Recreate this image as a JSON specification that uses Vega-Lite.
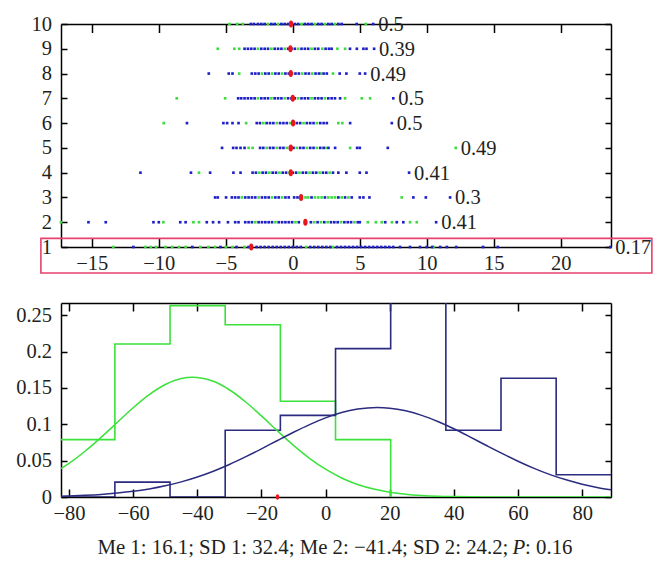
{
"$schema": "https://vega.github.io/schema/vega-lite/v6.json",
"background": "white",
"padding": {"left": 14, "top": 14, "right": 5, "bottom": 5},
"config": {
  "view": {"stroke": null},
  "font": "Liberation Serif",
  "axis": {"grid": false, "domainColor": "#000000", "domainWidth": 1.5, "tickColor": "#000000", "tickWidth": 1.5, "labelFont": "Liberation Serif", "labelFontSize": 20.5, "labelColor": "#231f20"}
},
"datasets": {
"dots": [
{"row":10,"x":-4.73,"grp":"g"},{"row":10,"x":-4.15,"grp":"g"},{"row":10,"x":-3.73,"grp":"g"},{"row":10,"x":-1.85,"grp":"g"},{"row":10,"x":-1.1,"grp":"g"},{"row":10,"x":-0.1,"grp":"g"},{"row":10,"x":0.65,"grp":"g"},{"row":10,"x":1.65,"grp":"g"},{"row":10,"x":2.4,"grp":"g"},{"row":10,"x":3.15,"grp":"g"},{"row":10,"x":5.45,"grp":"g"},
{"row":10,"x":-3.13,"grp":"b"},{"row":10,"x":-2.9,"grp":"b"},{"row":10,"x":-2.6,"grp":"b"},{"row":10,"x":-2.35,"grp":"b"},{"row":10,"x":-2.1,"grp":"b"},{"row":10,"x":-1.6,"grp":"b"},{"row":10,"x":-1.35,"grp":"b"},{"row":10,"x":-0.85,"grp":"b"},{"row":10,"x":-0.6,"grp":"b"},{"row":10,"x":-0.35,"grp":"b"},{"row":10,"x":0.15,"grp":"b"},{"row":10,"x":0.4,"grp":"b"},{"row":10,"x":0.9,"grp":"b"},{"row":10,"x":1.15,"grp":"b"},{"row":10,"x":1.4,"grp":"b"},{"row":10,"x":1.9,"grp":"b"},{"row":10,"x":2.15,"grp":"b"},{"row":10,"x":2.65,"grp":"b"},{"row":10,"x":2.9,"grp":"b"},{"row":10,"x":3.4,"grp":"b"},{"row":10,"x":3.65,"grp":"b"},{"row":10,"x":4.77,"grp":"b"},{"row":10,"x":6.0,"grp":"b"},
{"row":9,"x":-5.6,"grp":"g"},{"row":9,"x":-4.36,"grp":"g"},{"row":9,"x":-4.0,"grp":"g"},{"row":9,"x":-2.6,"grp":"g"},{"row":9,"x":-1.6,"grp":"g"},{"row":9,"x":-0.6,"grp":"g"},{"row":9,"x":0.4,"grp":"g"},{"row":9,"x":1.4,"grp":"g"},{"row":9,"x":2.2,"grp":"g"},{"row":9,"x":3.33,"grp":"g"},{"row":9,"x":3.9,"grp":"g"},
{"row":9,"x":-3.6,"grp":"b"},{"row":9,"x":-3.35,"grp":"b"},{"row":9,"x":-3.1,"grp":"b"},{"row":9,"x":-2.85,"grp":"b"},{"row":9,"x":-2.35,"grp":"b"},{"row":9,"x":-2.1,"grp":"b"},{"row":9,"x":-1.85,"grp":"b"},{"row":9,"x":-1.35,"grp":"b"},{"row":9,"x":-1.1,"grp":"b"},{"row":9,"x":-0.85,"grp":"b"},{"row":9,"x":-0.35,"grp":"b"},{"row":9,"x":-0.1,"grp":"b"},{"row":9,"x":0.15,"grp":"b"},{"row":9,"x":0.65,"grp":"b"},{"row":9,"x":0.9,"grp":"b"},{"row":9,"x":1.15,"grp":"b"},{"row":9,"x":1.65,"grp":"b"},{"row":9,"x":1.9,"grp":"b"},{"row":9,"x":2.45,"grp":"b"},{"row":9,"x":2.7,"grp":"b"},{"row":9,"x":2.9,"grp":"b"},{"row":9,"x":4.27,"grp":"b"},{"row":9,"x":4.78,"grp":"b"},{"row":9,"x":5.27,"grp":"b"},{"row":9,"x":5.5,"grp":"b"},{"row":9,"x":6.07,"grp":"b"},
{"row":8,"x":-4.0,"grp":"g"},{"row":8,"x":-2.3,"grp":"g"},{"row":8,"x":-1.55,"grp":"g"},{"row":8,"x":-0.8,"grp":"g"},{"row":8,"x":-0.05,"grp":"g"},{"row":8,"x":0.7,"grp":"g"},{"row":8,"x":1.45,"grp":"g"},{"row":8,"x":2.1,"grp":"g"},{"row":8,"x":3.0,"grp":"g"},
{"row":8,"x":-6.27,"grp":"b"},{"row":8,"x":-4.78,"grp":"b"},{"row":8,"x":-4.5,"grp":"b"},{"row":8,"x":-3.06,"grp":"b"},{"row":8,"x":-2.8,"grp":"b"},{"row":8,"x":-2.55,"grp":"b"},{"row":8,"x":-2.05,"grp":"b"},{"row":8,"x":-1.8,"grp":"b"},{"row":8,"x":-1.3,"grp":"b"},{"row":8,"x":-1.05,"grp":"b"},{"row":8,"x":-0.55,"grp":"b"},{"row":8,"x":-0.3,"grp":"b"},{"row":8,"x":0.2,"grp":"b"},{"row":8,"x":0.45,"grp":"b"},{"row":8,"x":0.95,"grp":"b"},{"row":8,"x":1.2,"grp":"b"},{"row":8,"x":1.7,"grp":"b"},{"row":8,"x":1.95,"grp":"b"},{"row":8,"x":2.3,"grp":"b"},{"row":8,"x":2.54,"grp":"b"},{"row":8,"x":3.5,"grp":"b"},{"row":8,"x":4.0,"grp":"b"},{"row":8,"x":5.0,"grp":"b"},{"row":8,"x":5.4,"grp":"b"},
{"row":7,"x":-8.66,"grp":"g"},{"row":7,"x":-5.05,"grp":"g"},{"row":7,"x":-2.6,"grp":"g"},{"row":7,"x":-1.6,"grp":"g"},{"row":7,"x":-0.6,"grp":"g"},{"row":7,"x":0.4,"grp":"g"},{"row":7,"x":1.4,"grp":"g"},{"row":7,"x":2.4,"grp":"g"},{"row":7,"x":3.9,"grp":"g"},{"row":7,"x":5.15,"grp":"g"},{"row":7,"x":5.77,"grp":"g"},
{"row":7,"x":-4.08,"grp":"b"},{"row":7,"x":-3.85,"grp":"b"},{"row":7,"x":-3.6,"grp":"b"},{"row":7,"x":-3.35,"grp":"b"},{"row":7,"x":-3.1,"grp":"b"},{"row":7,"x":-2.85,"grp":"b"},{"row":7,"x":-2.35,"grp":"b"},{"row":7,"x":-2.1,"grp":"b"},{"row":7,"x":-1.85,"grp":"b"},{"row":7,"x":-1.35,"grp":"b"},{"row":7,"x":-1.1,"grp":"b"},{"row":7,"x":-0.85,"grp":"b"},{"row":7,"x":-0.35,"grp":"b"},{"row":7,"x":-0.1,"grp":"b"},{"row":7,"x":0.15,"grp":"b"},{"row":7,"x":0.65,"grp":"b"},{"row":7,"x":0.9,"grp":"b"},{"row":7,"x":1.15,"grp":"b"},{"row":7,"x":1.65,"grp":"b"},{"row":7,"x":1.9,"grp":"b"},{"row":7,"x":2.15,"grp":"b"},{"row":7,"x":2.65,"grp":"b"},{"row":7,"x":2.9,"grp":"b"},{"row":7,"x":3.15,"grp":"b"},{"row":7,"x":3.53,"grp":"b"},{"row":7,"x":7.5,"grp":"b"},
{"row":6,"x":-9.63,"grp":"g"},{"row":6,"x":-3.48,"grp":"g"},{"row":6,"x":-2.2,"grp":"g"},{"row":6,"x":-1.2,"grp":"g"},{"row":6,"x":-0.2,"grp":"g"},{"row":6,"x":0.8,"grp":"g"},{"row":6,"x":1.8,"grp":"g"},{"row":6,"x":3.4,"grp":"g"},{"row":6,"x":3.7,"grp":"g"},
{"row":6,"x":-7.9,"grp":"b"},{"row":6,"x":-5.18,"grp":"b"},{"row":6,"x":-4.9,"grp":"b"},{"row":6,"x":-4.5,"grp":"b"},{"row":6,"x":-4.05,"grp":"b"},{"row":6,"x":-2.69,"grp":"b"},{"row":6,"x":-2.45,"grp":"b"},{"row":6,"x":-1.95,"grp":"b"},{"row":6,"x":-1.7,"grp":"b"},{"row":6,"x":-1.45,"grp":"b"},{"row":6,"x":-0.95,"grp":"b"},{"row":6,"x":-0.7,"grp":"b"},{"row":6,"x":-0.45,"grp":"b"},{"row":6,"x":0.05,"grp":"b"},{"row":6,"x":0.3,"grp":"b"},{"row":6,"x":0.55,"grp":"b"},{"row":6,"x":1.05,"grp":"b"},{"row":6,"x":1.3,"grp":"b"},{"row":6,"x":1.55,"grp":"b"},{"row":6,"x":2.05,"grp":"b"},{"row":6,"x":2.3,"grp":"b"},{"row":6,"x":2.54,"grp":"b"},{"row":6,"x":4.28,"grp":"b"},{"row":6,"x":7.39,"grp":"b"},
{"row":5,"x":-3.3,"grp":"g"},{"row":5,"x":-3.0,"grp":"g"},{"row":5,"x":-1.95,"grp":"g"},{"row":5,"x":-1.2,"grp":"g"},{"row":5,"x":-0.45,"grp":"g"},{"row":5,"x":0.3,"grp":"g"},{"row":5,"x":1.05,"grp":"g"},{"row":5,"x":1.8,"grp":"g"},{"row":5,"x":2.45,"grp":"g"},{"row":5,"x":4.28,"grp":"g"},{"row":5,"x":12.16,"grp":"g"},
{"row":5,"x":-5.28,"grp":"b"},{"row":5,"x":-4.45,"grp":"b"},{"row":5,"x":-4.2,"grp":"b"},{"row":5,"x":-3.9,"grp":"b"},{"row":5,"x":-3.6,"grp":"b"},{"row":5,"x":-2.44,"grp":"b"},{"row":5,"x":-2.2,"grp":"b"},{"row":5,"x":-1.7,"grp":"b"},{"row":5,"x":-1.45,"grp":"b"},{"row":5,"x":-0.95,"grp":"b"},{"row":5,"x":-0.7,"grp":"b"},{"row":5,"x":-0.2,"grp":"b"},{"row":5,"x":0.05,"grp":"b"},{"row":5,"x":0.55,"grp":"b"},{"row":5,"x":0.8,"grp":"b"},{"row":5,"x":1.3,"grp":"b"},{"row":5,"x":1.55,"grp":"b"},{"row":5,"x":2.05,"grp":"b"},{"row":5,"x":2.3,"grp":"b"},{"row":5,"x":2.66,"grp":"b"},{"row":5,"x":3.16,"grp":"b"},{"row":5,"x":4.8,"grp":"b"},{"row":5,"x":5.0,"grp":"b"},{"row":5,"x":7.09,"grp":"b"},
{"row":4,"x":-7.0,"grp":"g"},{"row":4,"x":-2.5,"grp":"g"},{"row":4,"x":-1.75,"grp":"g"},{"row":4,"x":-1.0,"grp":"g"},{"row":4,"x":-0.25,"grp":"g"},{"row":4,"x":0.5,"grp":"g"},{"row":4,"x":1.25,"grp":"g"},{"row":4,"x":2.0,"grp":"g"},{"row":4,"x":2.75,"grp":"g"},
{"row":4,"x":-11.37,"grp":"b"},{"row":4,"x":-7.6,"grp":"b"},{"row":4,"x":-6.17,"grp":"b"},{"row":4,"x":-4.43,"grp":"b"},{"row":4,"x":-3.9,"grp":"b"},{"row":4,"x":-3.0,"grp":"b"},{"row":4,"x":-2.75,"grp":"b"},{"row":4,"x":-2.25,"grp":"b"},{"row":4,"x":-2.0,"grp":"b"},{"row":4,"x":-1.5,"grp":"b"},{"row":4,"x":-1.25,"grp":"b"},{"row":4,"x":-0.75,"grp":"b"},{"row":4,"x":-0.5,"grp":"b"},{"row":4,"x":0.0,"grp":"b"},{"row":4,"x":0.25,"grp":"b"},{"row":4,"x":0.75,"grp":"b"},{"row":4,"x":1.0,"grp":"b"},{"row":4,"x":1.5,"grp":"b"},{"row":4,"x":1.75,"grp":"b"},{"row":4,"x":2.25,"grp":"b"},{"row":4,"x":2.5,"grp":"b"},{"row":4,"x":3.0,"grp":"b"},{"row":4,"x":3.4,"grp":"b"},{"row":4,"x":4.0,"grp":"b"},{"row":4,"x":5.0,"grp":"b"},{"row":4,"x":5.5,"grp":"b"},{"row":4,"x":8.68,"grp":"b"},
{"row":3,"x":-3.8,"grp":"g"},{"row":3,"x":-2.55,"grp":"g"},{"row":3,"x":-1.55,"grp":"g"},{"row":3,"x":-0.8,"grp":"g"},{"row":3,"x":0.95,"grp":"g"},{"row":3,"x":1.15,"grp":"g"},{"row":3,"x":1.65,"grp":"g"},{"row":3,"x":1.9,"grp":"g"},{"row":3,"x":2.15,"grp":"g"},{"row":3,"x":2.65,"grp":"g"},{"row":3,"x":2.9,"grp":"g"},{"row":3,"x":3.15,"grp":"g"},{"row":3,"x":3.65,"grp":"g"},{"row":3,"x":4.15,"grp":"g"},{"row":3,"x":8.13,"grp":"g"},
{"row":3,"x":-5.8,"grp":"b"},{"row":3,"x":-5.6,"grp":"b"},{"row":3,"x":-4.98,"grp":"b"},{"row":3,"x":-4.55,"grp":"b"},{"row":3,"x":-4.3,"grp":"b"},{"row":3,"x":-4.05,"grp":"b"},{"row":3,"x":-3.55,"grp":"b"},{"row":3,"x":-3.3,"grp":"b"},{"row":3,"x":-3.05,"grp":"b"},{"row":3,"x":-2.8,"grp":"b"},{"row":3,"x":-2.3,"grp":"b"},{"row":3,"x":-2.05,"grp":"b"},{"row":3,"x":-1.8,"grp":"b"},{"row":3,"x":-1.3,"grp":"b"},{"row":3,"x":-1.05,"grp":"b"},{"row":3,"x":-0.55,"grp":"b"},{"row":3,"x":-0.3,"grp":"b"},{"row":3,"x":0.1,"grp":"b"},{"row":3,"x":0.35,"grp":"b"},{"row":3,"x":1.4,"grp":"b"},{"row":3,"x":2.4,"grp":"b"},{"row":3,"x":3.4,"grp":"b"},{"row":3,"x":3.9,"grp":"b"},{"row":3,"x":4.4,"grp":"b"},{"row":3,"x":5.0,"grp":"b"},{"row":3,"x":5.27,"grp":"b"},{"row":3,"x":5.72,"grp":"b"},{"row":3,"x":9.0,"grp":"b"},{"row":3,"x":9.93,"grp":"b"},{"row":3,"x":11.74,"grp":"b"},
{"row":2,"x":-17.3,"grp":"g"},{"row":2,"x":-9.66,"grp":"g"},{"row":2,"x":-7.42,"grp":"g"},{"row":2,"x":-7.0,"grp":"g"},{"row":2,"x":-2.8,"grp":"g"},{"row":2,"x":-1.3,"grp":"g"},{"row":2,"x":0.2,"grp":"g"},{"row":2,"x":1.6,"grp":"g"},{"row":2,"x":2.1,"grp":"g"},{"row":2,"x":2.6,"grp":"g"},{"row":2,"x":3.6,"grp":"g"},{"row":2,"x":4.6,"grp":"g"},{"row":2,"x":5.6,"grp":"g"},{"row":2,"x":6.2,"grp":"g"},{"row":2,"x":6.64,"grp":"g"},{"row":2,"x":7.4,"grp":"g"},{"row":2,"x":8.75,"grp":"g"},{"row":2,"x":9.25,"grp":"g"},
{"row":2,"x":-15.25,"grp":"b"},{"row":2,"x":-13.96,"grp":"b"},{"row":2,"x":-10.4,"grp":"b"},{"row":2,"x":-10.0,"grp":"b"},{"row":2,"x":-8.4,"grp":"b"},{"row":2,"x":-8.0,"grp":"b"},{"row":2,"x":-6.42,"grp":"b"},{"row":2,"x":-5.95,"grp":"b"},{"row":2,"x":-5.5,"grp":"b"},{"row":2,"x":-4.84,"grp":"b"},{"row":2,"x":-4.3,"grp":"b"},{"row":2,"x":-4.05,"grp":"b"},{"row":2,"x":-3.55,"grp":"b"},{"row":2,"x":-3.3,"grp":"b"},{"row":2,"x":-3.05,"grp":"b"},{"row":2,"x":-2.55,"grp":"b"},{"row":2,"x":-2.3,"grp":"b"},{"row":2,"x":-2.05,"grp":"b"},{"row":2,"x":-1.8,"grp":"b"},{"row":2,"x":-1.55,"grp":"b"},{"row":2,"x":-1.05,"grp":"b"},{"row":2,"x":-0.8,"grp":"b"},{"row":2,"x":-0.55,"grp":"b"},{"row":2,"x":-0.3,"grp":"b"},{"row":2,"x":-0.05,"grp":"b"},{"row":2,"x":0.45,"grp":"b"},{"row":2,"x":1.35,"grp":"b"},{"row":2,"x":1.85,"grp":"b"},{"row":2,"x":2.35,"grp":"b"},{"row":2,"x":2.85,"grp":"b"},{"row":2,"x":3.1,"grp":"b"},{"row":2,"x":3.35,"grp":"b"},{"row":2,"x":3.85,"grp":"b"},{"row":2,"x":4.1,"grp":"b"},{"row":2,"x":4.35,"grp":"b"},{"row":2,"x":4.85,"grp":"b"},{"row":2,"x":5.0,"grp":"b"},{"row":2,"x":6.9,"grp":"b"},{"row":2,"x":7.76,"grp":"b"},{"row":2,"x":8.25,"grp":"b"},{"row":2,"x":10.7,"grp":"b"},
{"row":1,"x":-13.4,"grp":"g"},{"row":1,"x":-11.0,"grp":"g"},{"row":1,"x":-10.6,"grp":"g"},{"row":1,"x":-10.2,"grp":"g"},{"row":1,"x":-9.5,"grp":"g"},{"row":1,"x":-9.0,"grp":"g"},{"row":1,"x":-8.5,"grp":"g"},{"row":1,"x":-8.0,"grp":"g"},{"row":1,"x":-6.9,"grp":"g"},{"row":1,"x":-6.3,"grp":"g"},{"row":1,"x":-5.8,"grp":"g"},{"row":1,"x":-5.0,"grp":"g"},{"row":1,"x":-4.5,"grp":"g"},{"row":1,"x":-3.6,"grp":"g"},{"row":1,"x":1.0,"grp":"g"},{"row":1,"x":3.0,"grp":"g"},{"row":1,"x":10.5,"grp":"g"},
{"row":1,"x":-11.9,"grp":"b"},{"row":1,"x":-7.5,"grp":"b"},{"row":1,"x":-5.4,"grp":"b"},{"row":1,"x":-4.2,"grp":"b"},{"row":1,"x":-3.3,"grp":"b"},{"row":1,"x":-2.7,"grp":"b"},{"row":1,"x":-2.4,"grp":"b"},{"row":1,"x":-2.1,"grp":"b"},{"row":1,"x":-1.8,"grp":"b"},{"row":1,"x":-1.5,"grp":"b"},{"row":1,"x":-1.2,"grp":"b"},{"row":1,"x":-0.9,"grp":"b"},{"row":1,"x":-0.6,"grp":"b"},{"row":1,"x":-0.3,"grp":"b"},{"row":1,"x":0.0,"grp":"b"},{"row":1,"x":0.3,"grp":"b"},{"row":1,"x":0.6,"grp":"b"},{"row":1,"x":1.3,"grp":"b"},{"row":1,"x":1.6,"grp":"b"},{"row":1,"x":1.9,"grp":"b"},{"row":1,"x":2.2,"grp":"b"},{"row":1,"x":2.5,"grp":"b"},{"row":1,"x":2.8,"grp":"b"},{"row":1,"x":3.3,"grp":"b"},{"row":1,"x":3.6,"grp":"b"},{"row":1,"x":3.9,"grp":"b"},{"row":1,"x":4.2,"grp":"b"},{"row":1,"x":4.5,"grp":"b"},{"row":1,"x":4.8,"grp":"b"},{"row":1,"x":5.1,"grp":"b"},{"row":1,"x":5.4,"grp":"b"},{"row":1,"x":5.7,"grp":"b"},{"row":1,"x":6.0,"grp":"b"},{"row":1,"x":6.3,"grp":"b"},{"row":1,"x":6.6,"grp":"b"},{"row":1,"x":6.9,"grp":"b"},{"row":1,"x":7.2,"grp":"b"},{"row":1,"x":7.5,"grp":"b"},{"row":1,"x":8.0,"grp":"b"},{"row":1,"x":8.75,"grp":"b"},{"row":1,"x":9.5,"grp":"b"},{"row":1,"x":10.0,"grp":"b"},{"row":1,"x":10.4,"grp":"b"},{"row":1,"x":11.0,"grp":"b"},{"row":1,"x":11.5,"grp":"b"},{"row":1,"x":12.2,"grp":"b"},{"row":1,"x":14.2,"grp":"b"},{"row":1,"x":15.3,"grp":"b"},{"row":1,"x":23.7,"grp":"b"}
],
"meds": [
{"row":10,"med":-0.13,"p":"0.5"},{"row":9,"med":-0.18,"p":"0.39"},{"row":8,"med":-0.15,"p":"0.49"},{"row":7,"med":0.0,"p":"0.5"},{"row":6,"med":0.02,"p":"0.5"},{"row":5,"med":-0.15,"p":"0.49"},{"row":4,"med":-0.15,"p":"0.41"},{"row":3,"med":0.62,"p":"0.3"},{"row":2,"med":0.94,"p":"0.41"},{"row":1,"med":-3.1,"p":"0.17"}
],
"hist": [
{"series":"2","x":-82.9,"y":0.0789},{"series":"2","x":-65.7,"y":0.2105},{"series":"2","x":-48.5,"y":0.2632},{"series":"2","x":-31.3,"y":0.2368},{"series":"2","x":-14.1,"y":0.1316},{"series":"2","x":3.1,"y":0.0789},{"series":"2","x":20.3,"y":0},
{"series":"1","x":-82.9,"y":0},{"series":"1","x":-65.7,"y":0.0204},{"series":"1","x":-48.5,"y":0},{"series":"1","x":-31.3,"y":0.0918},{"series":"1","x":-14.1,"y":0.1122},{"series":"1","x":3.1,"y":0.2041},{"series":"1","x":20.3,"y":0.2857},{"series":"1","x":37.5,"y":0.0918},{"series":"1","x":54.7,"y":0.1633},{"series":"1","x":71.9,"y":0.0306},{"series":"1","x":89.1,"y":0.0306}
],
"curve": [
{"series":"2","x":-82.5,"y":0.039},{"series":"2","x":-80,"y":0.0462},{"series":"2","x":-75,"y":0.0629},{"series":"2","x":-70,"y":0.082},{"series":"2","x":-65,"y":0.1024},{"series":"2","x":-60,"y":0.1227},{"series":"2","x":-55,"y":0.1407},{"series":"2","x":-50,"y":0.1547},{"series":"2","x":-45,"y":0.163},{"series":"2","x":-41.4,"y":0.1648},{"series":"2","x":-40,"y":0.1645},{"series":"2","x":-35,"y":0.1591},{"series":"2","x":-30,"y":0.1475},{"series":"2","x":-25,"y":0.131},{"series":"2","x":-20,"y":0.1115},{"series":"2","x":-15,"y":0.0909},{"series":"2","x":-10,"y":0.071},{"series":"2","x":-5,"y":0.0532},{"series":"2","x":0,"y":0.0382},{"series":"2","x":5,"y":0.0262},{"series":"2","x":10,"y":0.0173},{"series":"2","x":15,"y":0.0109},{"series":"2","x":20,"y":0.0066},{"series":"2","x":25,"y":0.0038},{"series":"2","x":30,"y":0.0021},{"series":"2","x":35,"y":0.0011},{"series":"2","x":40,"y":0.0006},{"series":"2","x":45,"y":0.0003},{"series":"2","x":50,"y":0.0001},{"series":"2","x":60,"y":0},{"series":"2","x":89,"y":0},
{"series":"1","x":-82.5,"y":0.0012},{"series":"1","x":-80,"y":0.0015},{"series":"1","x":-75,"y":0.0024},{"series":"1","x":-70,"y":0.0036},{"series":"1","x":-65,"y":0.0054},{"series":"1","x":-60,"y":0.0078},{"series":"1","x":-55,"y":0.0111},{"series":"1","x":-50,"y":0.0154},{"series":"1","x":-45,"y":0.0208},{"series":"1","x":-40,"y":0.0275},{"series":"1","x":-35,"y":0.0355},{"series":"1","x":-30,"y":0.0447},{"series":"1","x":-25,"y":0.0551},{"series":"1","x":-20,"y":0.0662},{"series":"1","x":-15,"y":0.0777},{"series":"1","x":-10,"y":0.089},{"series":"1","x":-5,"y":0.0996},{"series":"1","x":0,"y":0.1088},{"series":"1","x":5,"y":0.1161},{"series":"1","x":10,"y":0.1209},{"series":"1","x":16.1,"y":0.1231},{"series":"1","x":20,"y":0.1222},{"series":"1","x":25,"y":0.1185},{"series":"1","x":30,"y":0.1123},{"series":"1","x":35,"y":0.1038},{"series":"1","x":40,"y":0.0938},{"series":"1","x":45,"y":0.0827},{"series":"1","x":50,"y":0.0712},{"series":"1","x":55,"y":0.0599},{"series":"1","x":60,"y":0.0492},{"series":"1","x":65,"y":0.0394},{"series":"1","x":70,"y":0.0308},{"series":"1","x":75,"y":0.0236},{"series":"1","x":80,"y":0.0176},{"series":"1","x":85,"y":0.0128},{"series":"1","x":89,"y":0.0098}
],
"marker": [{"x":-15.0,"y":0}]
},
"resolve": {"scale": {"x": "independent", "y": "independent", "color": "independent"}},
"spacing": 28,
"vconcat": [
{
  "width": 550, "height": 223,
  "layer": [
    {"data": {"name": "dots"},
     "mark": {"type": "point", "shape": "square", "filled": true, "size": 7, "opacity": 1},
     "encoding": {
       "x": {"field": "x", "type": "quantitative", "scale": {"domain": [-17.3, 23.75], "nice": false, "zero": false}, "axis": {"orient": "bottom", "values": [-15,-10,-5,0,5,10,15,20], "tickSize": -8.5, "labelPadding": 14.5, "title": null}},
       "y": {"field": "row", "type": "quantitative", "scale": {"domain": [1, 10], "nice": false, "zero": false}, "axis": {"orient": "left", "values": [1,2,3,4,5,6,7,8,9,10], "tickSize": -6, "labelPadding": 15.5, "title": null, "minExtent": 47, "maxExtent": 47}},
       "color": {"field": "grp", "type": "nominal", "scale": {"domain": ["b", "g"], "range": ["#1f1fc8", "#3ddc3d"]}, "legend": null}
     }},
    {"data": {"name": "meds"},
     "mark": {"type": "point", "shape": "M0,-1C0.85,-1 0.85,1 0,1C-0.85,1 -0.85,-1 0,-1Z", "filled": true, "size": 49, "color": "#e8161b", "opacity": 1},
     "encoding": {
       "x": {"field": "med", "type": "quantitative", "scale": {"domain": [-17.3, 23.75], "nice": false, "zero": false}, "axis": {"orient": "top", "values": [-15,-10,-5,0,5,10,15,20], "tickSize": -8.5, "labels": false, "title": null}},
       "y": {"field": "row", "type": "quantitative", "scale": {"domain": [1, 10], "nice": false, "zero": false}, "axis": {"orient": "right", "values": [1,2,3,4,5,6,7,8,9,10], "tickSize": -6, "labels": false, "title": null}}
     }},
    {"data": {"name": "dots"},
     "transform": [
       {"aggregate": [{"op": "max", "field": "x", "as": "xmax"}], "groupby": ["row"]},
       {"lookup": "row", "from": {"data": {"name": "meds"}, "key": "row", "fields": ["p"]}}
     ],
     "mark": {"type": "text", "align": "left", "baseline": "middle", "dx": 5, "dy": 1, "fontSize": 20.5, "font": "Liberation Serif", "color": "#231f20"},
     "encoding": {
       "x": {"field": "xmax", "type": "quantitative", "scale": {"domain": [-17.3, 23.75], "nice": false, "zero": false}, "axis": null},
       "y": {"field": "row", "type": "quantitative", "scale": {"domain": [1, 10], "nice": false, "zero": false}, "axis": null},
       "text": {"field": "p", "type": "nominal"}
     }},
    {"data": {"values": [{}]},
     "mark": {"type": "rect", "filled": false, "color": "#e6416e", "strokeWidth": 1.6},
     "encoding": {
       "x": {"datum": -18.8, "type": "quantitative", "scale": {"domain": [-17.3, 23.75], "nice": false, "zero": false}, "axis": null},
       "x2": {"datum": 26.8},
       "y": {"datum": 1.35, "type": "quantitative", "scale": {"domain": [1, 10], "nice": false, "zero": false}, "axis": null},
       "y2": {"datum": -0.05}
     }}
  ],
  "resolve": {"axis": {"x": "independent", "y": "independent"}}
},
{
  "width": 550, "height": 194,
  "layer": [
    {"data": {"name": "hist"},
     "mark": {"type": "line", "interpolate": "step-after", "strokeWidth": 1.6, "clip": true},
     "encoding": {
       "x": {"field": "x", "type": "quantitative", "scale": {"domain": [-82.5, 89], "nice": false, "zero": false}, "axis": {"orient": "bottom", "values": [-80,-60,-40,-20,0,20,40,60,80], "tickSize": -8, "labelPadding": 14, "title": null}},
       "y": {"field": "y", "type": "quantitative", "scale": {"domain": [0, 0.2668], "nice": false}, "axis": {"orient": "left", "values": [0,0.05,0.1,0.15,0.2,0.25], "format": "~g", "tickSize": -6, "labelPadding": 15.5, "title": null, "minExtent": 47, "maxExtent": 47}},
       "color": {"field": "series", "type": "nominal", "scale": {"domain": ["1", "2"], "range": ["#2b2b80", "#3ae23a"]}, "legend": null}
     }},
    {"data": {"name": "curve"},
     "mark": {"type": "line", "interpolate": "monotone", "strokeWidth": 1.5, "clip": true},
     "encoding": {
       "x": {"field": "x", "type": "quantitative", "scale": {"domain": [-82.5, 89], "nice": false, "zero": false}, "axis": {"orient": "top", "values": [-80,-60,-40,-20,0,20,40,60,80], "tickSize": -8, "labels": false, "title": null}},
       "y": {"field": "y", "type": "quantitative", "scale": {"domain": [0, 0.2668], "nice": false}, "axis": {"orient": "right", "values": [0,0.05,0.1,0.15,0.2,0.25], "tickSize": -6, "labels": false, "title": null}},
       "color": {"field": "series", "type": "nominal", "scale": {"domain": ["1", "2"], "range": ["#2b2b80", "#3ae23a"]}, "legend": null}
     }},
    {"data": {"name": "marker"},
     "mark": {"type": "point", "shape": "M0,-1C0.85,-1 0.85,1 0,1C-0.85,1 -0.85,-1 0,-1Z", "filled": true, "size": 30, "color": "#e8161b", "opacity": 1},
     "encoding": {
       "x": {"field": "x", "type": "quantitative", "scale": {"domain": [-82.5, 89], "nice": false, "zero": false}, "axis": null},
       "y": {"field": "y", "type": "quantitative", "scale": {"domain": [0, 0.2668], "nice": false}, "axis": null}
     }},
    {"data": {"values": [{}]},
     "mark": {"type": "text", "align": "right", "baseline": "alphabetic", "fontSize": 20.8, "font": "Liberation Serif", "color": "#231f20", "text": "Me 1: 16.1; SD 1: 32.4; Me 2: −41.4; SD 2: 24.2;"},
     "encoding": {
       "x": {"datum": 57.0, "type": "quantitative", "scale": {"domain": [-82.5, 89], "nice": false, "zero": false}, "axis": null},
       "y": {"datum": -0.079, "type": "quantitative", "scale": {"domain": [0, 0.2668], "nice": false}, "axis": null}
     }},
    {"data": {"values": [{}]},
     "mark": {"type": "text", "align": "left", "baseline": "alphabetic", "fontSize": 20.8, "font": "Liberation Serif", "fontStyle": "italic", "color": "#231f20", "text": "P"},
     "encoding": {
       "x": {"datum": 58.3, "type": "quantitative", "scale": {"domain": [-82.5, 89], "nice": false, "zero": false}, "axis": null},
       "y": {"datum": -0.079, "type": "quantitative", "scale": {"domain": [0, 0.2668], "nice": false}, "axis": null}
     }},
    {"data": {"values": [{}]},
     "mark": {"type": "text", "align": "left", "baseline": "alphabetic", "fontSize": 20.8, "font": "Liberation Serif", "color": "#231f20", "text": ": 0.16"},
     "encoding": {
       "x": {"datum": 62.2, "type": "quantitative", "scale": {"domain": [-82.5, 89], "nice": false, "zero": false}, "axis": null},
       "y": {"datum": -0.079, "type": "quantitative", "scale": {"domain": [0, 0.2668], "nice": false}, "axis": null}
     }}
  ],
  "resolve": {"axis": {"x": "independent", "y": "independent"}}
}
]
}
